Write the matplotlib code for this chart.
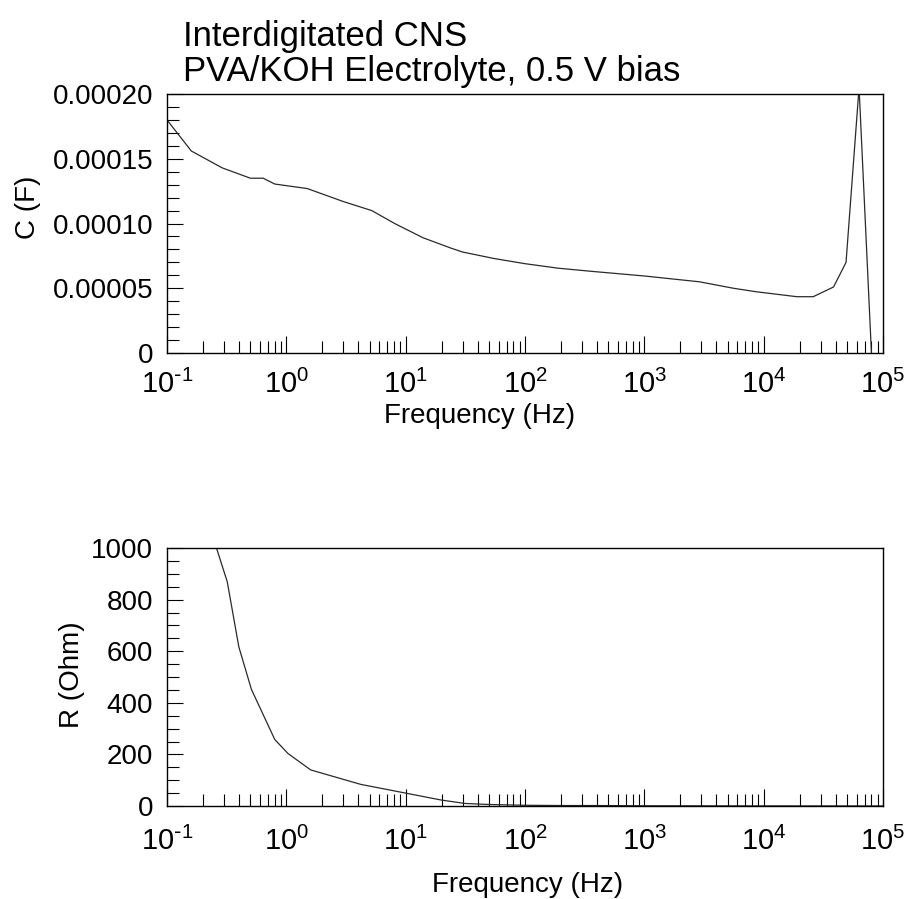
import numpy as np
import matplotlib
matplotlib.use("Agg")
import matplotlib.pyplot as plt
from matplotlib.ticker import FixedLocator, LogLocator, FixedFormatter

# capacitance vs frequency (top panel)
freq_c = [0.1, 0.16, 0.29, 0.5, 0.64, 0.8, 1.5, 3.0, 5.2, 8.1, 14, 24, 30, 55,
          100, 190, 370, 1000, 2900, 5600, 8700, 19000, 26000, 38500, 49000,
          63000, 80000]
cap = [1.80e-4, 1.56e-4, 1.43e-4, 1.35e-4, 1.35e-4, 1.305e-4, 1.27e-4, 1.17e-4,
       1.10e-4, 1.0e-4, 8.9e-5, 8.1e-5, 7.8e-5, 7.3e-5, 6.9e-5, 6.55e-5, 6.3e-5,
       5.95e-5, 5.5e-5, 5.0e-5, 4.73e-5, 4.35e-5, 4.35e-5, 5.1e-5, 7.0e-5,
       2.05e-4, 0.0]

# resistance vs frequency (bottom panel)
freq_r = [0.26, 0.32, 0.40, 0.51, 0.80, 1.03, 1.6, 4.2, 10.3, 20, 31.5, 50,
          100, 200, 400, 1000, 10000, 100000]
res = [1000, 869, 617, 452, 258, 204, 140, 84, 49, 23, 10, 6, 3, 2, 2, 1,
       0.5, 0.3]

c_ticks = [0, 5e-5, 1e-4, 1.5e-4, 2e-4]
c_labels = ["0", "0.00005", "0.00010", "0.00015", "0.00020"]
r_ticks = [0, 200, 400, 600, 800, 1000]
x_ticks = [1e-1, 1e0, 1e1, 1e2, 1e3, 1e4, 1e5]
x_labels = [r"$10^{\text{-}1}$", "$10^{0}$", "$10^{1}$", "$10^{2}$",
            "$10^{3}$", "$10^{4}$", "$10^{5}$"]

plt.rcParams.update({
    "font.family": ["Liberation Sans", "DejaVu Sans"],
    "mathtext.default": "regular",
    "font.size": 20,
    "axes.linewidth": 1.0,
})

LINE = "#2a2a2a"

fig = plt.figure(figsize=(9.09, 8.99), dpi=100)
ax1 = fig.add_axes([0.1837, 0.6073, 0.7877, 0.2881])
ax2 = fig.add_axes([0.1837, 0.1034, 0.7877, 0.2870])


def style(ax, xpad):
    ax.set_xscale("log")
    ax.set_xlim(1e-1, 1e5)
    ax.xaxis.set_major_locator(FixedLocator(x_ticks))
    ax.xaxis.set_major_formatter(FixedFormatter(x_labels))
    ax.xaxis.set_minor_locator(LogLocator(base=10, subs=np.arange(2, 10)))
    ax.xaxis.set_minor_formatter(FixedFormatter([]))
    ax.tick_params(axis="x", which="major", direction="in", length=12,
                   width=0.8, pad=xpad, labelsize=21)
    ax.tick_params(axis="x", which="minor", direction="in", length=8.5,
                   width=0.8)
    ax.tick_params(axis="y", which="major", direction="in", length=11.5,
                   width=0.8, pad=10, labelsize=20)
    ax.tick_params(axis="y", which="minor", direction="in", length=8.5,
                   width=0.8)
    ax.tick_params(top=False, right=False, which="both")


ax1.plot(freq_c, cap, color=LINE, lw=0.9)
style(ax1, 12)
ax1.set_ylim(0, 2e-4)
ax1.yaxis.set_major_locator(FixedLocator(c_ticks))
ax1.yaxis.set_major_formatter(FixedFormatter(c_labels))
ax1.yaxis.set_minor_locator(FixedLocator(np.arange(0, 2.01e-4, 1e-5)))
ax1.set_xlabel("Frequency (Hz)", fontsize=20, va="center")
ax1.xaxis.set_label_coords(0.436, -0.243)
ax1.set_ylabel("C (F)", fontsize=20, va="center")
ax1.yaxis.set_label_coords(-0.194, 0.564)
ax1.text(0.022, 1.025, "Interdigitated CNS\nPVA/KOH Electrolyte, 0.5 V bias",
         transform=ax1.transAxes, fontsize=25, ha="left", va="bottom",
         linespacing=1.05)

ax2.plot(freq_r, res, color=LINE, lw=0.9)
style(ax2, 15)
ax2.set_ylim(0, 1000)
ax2.yaxis.set_major_locator(FixedLocator(r_ticks))
ax2.yaxis.set_minor_locator(FixedLocator(np.arange(0, 1001, 50)))
ax2.set_xlabel("Frequency (Hz)", fontsize=20, va="center")
ax2.xaxis.set_label_coords(0.503, -0.305)
ax2.set_ylabel("R (Ohm)", fontsize=20, va="center")
ax2.yaxis.set_label_coords(-0.133, 0.51)

fig.savefig("out.png", dpi=100)
